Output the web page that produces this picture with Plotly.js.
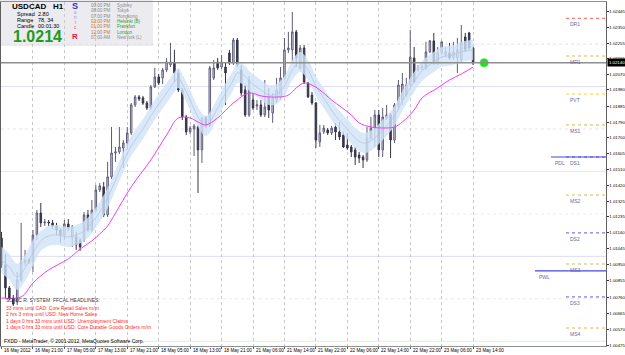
<!DOCTYPE html>
<html><head><meta charset="utf-8">
<script src="https://cdn.plot.ly/plotly-3.0.1.min.js"></script>
<style>html,body{margin:0;padding:0;background:#fff;overflow:hidden}#chart{width:625px;height:355px}</style>
</head><body><div id="chart"></div>
<script>
// ---------------- DATA ----------------
const symbol = "USDCAD";
const timeframe = "H1";
const tickBars = [0,8,16,24,32,40,48,56,64,72,80,88,96,104,112,120];
const tickLabels = ["16 May 2012","16 May 21:00","17 May 05:00","17 May 13:00","17 May 21:00","18 May 05:00","18 May 13:00","18 May 21:00","21 May 06:00","21 May 14:00","21 May 22:00","22 May 06:00","22 May 14:00","22 May 22:00","23 May 06:00","23 May 14:00"];
const priceTickLabels = ["1.02445","1.02350","1.02255","1.02165","1.02070","1.01980","1.01885","1.01790","1.01700","1.01605","1.01510","1.01420","1.01325","1.01235","1.01140","1.01045","1.00950","1.00855","1.00760","1.00665","1.00570","1.00475"];

const openP = [1.01108,1.00949,1.00814,1.00755,1.00731,1.00861,1.00961,1.00979,1.00967,1.01126,1.01255,1.01197,1.01202,1.01197,1.01179,1.01155,1.01126,1.01191,1.01114,1.01114,1.01096,1.01096,1.01244,1.01155,1.01273,1.01391,1.01409,1.01244,1.01468,1.01609,1.01615,1.01638,1.01668,1.01727,1.01892,1.01939,1.01933,1.01903,1.01874,1.01998,1.02057,1.02051,1.02098,1.02127,1.02139,1.02080,1.01980,1.01821,1.01733,1.01750,1.01762,1.01627,1.01815,1.01774,1.02051,1.02145,1.02115,1.02115,1.02198,1.02139,1.02274,1.02098,1.01980,1.01833,1.01921,1.01886,1.01892,1.01833,1.01939,1.01844,1.01921,1.01939,1.02051,1.02216,1.02216,1.02322,1.02110,1.02227,1.02021,1.01950,1.01903,1.01674,1.01733,1.01744,1.01727,1.01762,1.01733,1.01715,1.01656,1.01644,1.01627,1.01597,1.01585,1.01568,1.01697,1.01756,1.01833,1.01627,1.01815,1.01833,1.01685,1.01892,1.01921,1.01950,1.02009,1.02168,1.02098,1.02110,1.02110,1.02204,1.02269,1.02139,1.02198,1.02186,1.02198,1.02168,1.02168,1.02157,1.02292,1.02316,1.02227];
const highP = [1.01144,1.01014,1.00825,1.00772,1.00908,1.01197,1.01038,1.00990,1.01155,1.01273,1.01314,1.01220,1.01214,1.01214,1.01197,1.01167,1.01214,1.01220,1.01185,1.01144,1.01108,1.01261,1.01273,1.01332,1.01420,1.01432,1.01438,1.01556,1.01762,1.01644,1.01762,1.01685,1.01762,1.01903,1.01950,1.01950,1.01945,1.01915,1.02009,1.02110,1.02074,1.02110,1.02168,1.02257,1.02216,1.02098,1.01992,1.01833,1.01768,1.01780,1.01774,1.01821,1.01827,1.02121,1.02157,1.02168,1.02186,1.02145,1.02216,1.02286,1.02286,1.02127,1.02009,1.02062,1.01962,1.01921,1.01921,1.02039,1.01992,1.01962,1.02051,1.02115,1.02286,1.02322,1.02439,1.02333,1.02245,1.02245,1.02027,1.01968,1.01909,1.01774,1.01774,1.01756,1.01768,1.01786,1.01791,1.01733,1.01727,1.01656,1.01644,1.01615,1.01597,1.01762,1.01821,1.01862,1.01862,1.01874,1.01892,1.01844,1.01903,1.02039,1.02080,1.02051,1.02333,1.02233,1.02127,1.02133,1.02263,1.02274,1.02316,1.02233,1.02269,1.02233,1.02257,1.02263,1.02286,1.02363,1.02316,1.02322,1.02233];
const lowP = [1.00932,1.00755,1.00743,1.00708,1.00714,1.00849,1.00943,1.00955,1.00908,1.01096,1.01173,1.01179,1.01179,1.01161,1.01126,1.01079,1.01096,1.01149,1.01055,1.01038,1.01032,1.01085,1.01144,1.01144,1.01261,1.01379,1.01232,1.01232,1.01456,1.01556,1.01603,1.01520,1.01627,1.01715,1.01880,1.01915,1.01892,1.01862,1.01862,1.01992,1.02009,1.02015,1.02086,1.02115,1.02027,1.01968,1.01803,1.01715,1.01721,1.01591,1.01373,1.01550,1.01756,1.01762,1.02039,1.02098,1.02104,1.01892,1.02127,1.02127,1.02115,1.01945,1.01821,1.01821,1.01862,1.01862,1.01821,1.01821,1.01815,1.01786,1.01903,1.01921,1.02039,1.02198,1.02145,1.02115,1.02098,1.02015,1.01933,1.01892,1.01638,1.01644,1.01721,1.01715,1.01715,1.01685,1.01685,1.01638,1.01627,1.01585,1.01538,1.01550,1.01520,1.01556,1.01685,1.01644,1.01585,1.01585,1.01803,1.01579,1.01668,1.01862,1.01892,1.01939,1.01998,1.02021,1.02086,1.02098,1.02098,1.02198,1.02127,1.02127,1.02186,1.02174,1.02157,1.02157,1.02080,1.02145,1.02204,1.02216,1.02127];
const closeP = [1.00949,1.00814,1.00755,1.00719,1.00861,1.00967,1.00979,1.00967,1.01126,1.01255,1.01197,1.01202,1.01197,1.01179,1.01155,1.01126,1.01191,1.01167,1.01173,1.01067,1.01055,1.01244,1.01155,1.01273,1.01391,1.01415,1.01244,1.01468,1.01609,1.01615,1.01644,1.01668,1.01727,1.01892,1.01939,1.01927,1.01903,1.01874,1.01998,1.02057,1.02021,1.02098,1.02145,1.02145,1.02080,1.01980,1.01821,1.01733,1.01756,1.01768,1.01627,1.01815,1.01774,1.02110,1.02110,1.02110,1.02145,1.02080,1.02139,1.02274,1.02127,1.01962,1.01833,1.02039,1.01874,1.01892,1.01833,1.01880,1.01862,1.01933,1.01980,1.02051,1.02216,1.02227,1.02322,1.02168,1.02227,1.02027,1.01939,1.01903,1.01685,1.01727,1.01756,1.01727,1.01756,1.01733,1.01703,1.01644,1.01638,1.01615,1.01585,1.01579,1.01568,1.01697,1.01756,1.01833,1.01627,1.01821,1.01833,1.01685,1.01892,1.02009,1.02015,1.02009,1.02174,1.02027,1.02110,1.02115,1.02204,1.02269,1.02139,1.02198,1.02263,1.02204,1.02168,1.02204,1.02216,1.02257,1.02216,1.02227,1.02140];

// Sonic R "dragon" band (EMA34 of high / close / low) sampled at these bars
const dragonBars = [0,2,4,6,8,10,12,14,17,19,21,23,25,27,29,31,33,36,38,40,42,44,45,46,48,50,52,55,57,59,60,62,63,66,68,70,72,74,76,78,80,83,85,88,90,92,94,97,100,102,105,107,110,112,115,117,120];
const dragonMid = [1.00979,1.00937,1.00879,1.00932,1.01020,1.01091,1.01120,1.01126,1.01114,1.01126,1.01149,1.01197,1.01261,1.01344,1.01450,1.01556,1.01650,1.01750,1.01827,1.01897,1.01962,1.02027,1.02051,1.02015,1.01921,1.01821,1.01768,1.01874,1.01962,1.02039,1.02080,1.02062,1.02033,1.01980,1.01950,1.01956,1.02003,1.02098,1.02145,1.02098,1.02003,1.01897,1.01827,1.01750,1.01697,1.01668,1.01680,1.01744,1.01827,1.01915,1.02027,1.02092,1.02145,1.02174,1.02186,1.02204,1.02216];
const dragonHigh = [1.01056,1.01014,1.00956,1.01009,1.01097,1.01150,1.01179,1.01185,1.01173,1.01185,1.01208,1.01256,1.01320,1.01403,1.01509,1.01615,1.01709,1.01809,1.01886,1.01956,1.02021,1.02086,1.02110,1.02074,1.01980,1.01880,1.01827,1.01933,1.02021,1.02098,1.02139,1.02121,1.02092,1.02039,1.02009,1.02015,1.02062,1.02157,1.02204,1.02157,1.02062,1.01956,1.01886,1.01809,1.01756,1.01727,1.01739,1.01803,1.01886,1.01974,1.02086,1.02151,1.02204,1.02233,1.02245,1.02263,1.02275];
const dragonLow = [1.00902,1.00860,1.00802,1.00855,1.00943,1.01032,1.01061,1.01067,1.01055,1.01067,1.01090,1.01138,1.01202,1.01285,1.01391,1.01497,1.01591,1.01691,1.01768,1.01838,1.01903,1.01968,1.01992,1.01956,1.01862,1.01762,1.01709,1.01815,1.01903,1.01980,1.02021,1.02003,1.01974,1.01921,1.01891,1.01897,1.01944,1.02039,1.02086,1.02039,1.01944,1.01838,1.01768,1.01691,1.01638,1.01609,1.01621,1.01685,1.01768,1.01856,1.01968,1.02033,1.02086,1.02115,1.02127,1.02145,1.02157];

// Magenta trend line (EMA89) sampled at these bars
const trendBars = [0,5,8,12,17,20,23,25,27,29,33,38,42,45,48,50,52,55,59,63,66,68,71,73,75,77,79,81,84,89,91,94,97,100,102,105,107,111,114,117,120];
const trendLine = [1.00755,1.00761,1.00843,1.00920,1.00985,1.01043,1.01091,1.01132,1.01179,1.01255,1.01409,1.01568,1.01715,1.01815,1.01815,1.01791,1.01774,1.01815,1.01903,1.01962,1.01945,1.01939,1.01939,1.01950,1.01992,1.02021,1.02009,1.01980,1.01921,1.01833,1.01786,1.01762,1.01756,1.01762,1.01791,1.01862,1.01933,1.01992,1.02039,1.02074,1.02115];

const currentPrice = 1.02140;
const roundLevels = [1.0225,1.0200,1.0175,1.0150,1.0125,1.0100,1.0075,1.0050];
const pivotNames = ["DR1","MR1","PVT","MS1","DS1","MS2","DS2","MS3","DS3","MS4"];
const pivotValues = [1.02402,1.02180,1.01956,1.01774,1.01585,1.01361,1.01138,1.00955,1.00761,1.00578];
const prevNames = ["PDL","PWL"];
const prevValues = [1.01585,1.00914];

const infoLines = [["Spread","2.80"],["Range","78, 34"],["Candle","00:01:30"]];
const clockTimes = ["09:00 PM","08:00 PM","07:00 PM","02:00 PM","01:00 PM","12:00 PM","07:00 AM"];
const clockCities = ["Sydney","Tokyo","Hongkong","Helsinki (B)","Frankfurt","London","NewYork (L)"];
const headlineTitle = "SONIC R. SYSTEM  FFCAL HEADLINES:";
const headlines = ["33 mins until CAD: Core Retail Sales m/m","2 hrs 3 mins until USD: New Home Sales","1 days 0 hrs 33 mins until USD: Unemployment Claims","1 days 0 hrs 33 mins until USD: Core Durable Goods Orders m/m"];
const footer = "FXDD - MetaTrader, \u00A9 2001-2012, MetaQuotes Software Corp.";

// ---------------- LAYOUT HELPERS ----------------
const W = 625, H = 355, ML = 1, MR = 19, MT = 2, MB = 9;
const PW = W - ML - MR, PH = H - MT - MB;
const px = x => (x - ML) / PW;
const py = y => 1 - (y - MT) / PH;
const barPx = 3.93, bar0Px = 1.5;
const xRange = [(ML - bar0Px) / barPx, (W - MR - bar0Px) / barPx];
const yRange = [1.00472, 1.02498];
const FONT = "Liberation Sans, Arial, sans-serif";
const barIdx = openP.map((_, i) => i);

const traces = [
  {type:"scatter", mode:"lines", x:dragonBars, y:dragonLow, line:{color:"rgba(0,0,0,0)", width:0, shape:"spline"}, hoverinfo:"skip", showlegend:false},
  {type:"scatter", mode:"lines", x:dragonBars, y:dragonHigh, fill:"tonexty", fillcolor:"rgba(207,228,249,0.8)", line:{color:"rgba(0,0,0,0)", width:0, shape:"spline"}, hoverinfo:"skip", showlegend:false},
  {type:"scatter", mode:"lines", x:dragonBars, y:dragonMid, line:{color:"#b4c2d2", width:0.7, shape:"spline"}, hoverinfo:"skip", showlegend:false},
  {type:"scatter", mode:"lines", x:trendBars, y:trendLine, line:{color:"#f23cf2", width:1, shape:"spline"}, hoverinfo:"skip", showlegend:false},
  {type:"candlestick", x:barIdx, open:openP, high:highP, low:lowP, close:closeP,
   increasing:{line:{color:"#5c5c7a", width:1}, fillcolor:"#dcdce4"},
   decreasing:{line:{color:"#34344a", width:1}, fillcolor:"#3a3a50"},
   whiskerwidth:0, hoverinfo:"skip", showlegend:false},
  {type:"scatter", mode:"markers", x:[122.8], y:[currentPrice], marker:{color:"#19e619", size:8, line:{color:"rgba(25,230,25,0.4)", width:1.5}}, hoverinfo:"skip", showlegend:false}
];

const shapes = [];
const annotations = [];
// info panel background
shapes.push({type:"rect", xref:"paper", yref:"paper", x0:px(0), x1:px(153), y0:py(46), y1:py(0), fillcolor:"#ebebf0", line:{width:0}, layer:"below"});
// round number levels
const levelColors = ["#e4e4e4","#dcdcf4","#f0e0e4","#d8f0d8","#f0ecd8","#dcdcf4","#e8e8e8","#d8f0d8"];
roundLevels.forEach((v, i) => shapes.push({type:"line", xref:"paper", yref:"y", x0:0, x1:1, y0:v, y1:v, line:{color:levelColors[i], width:1, dash: i % 2 === 0 ? "dot" : "solid"}, layer:"below"}));
// bid line
shapes.push({type:"line", xref:"paper", yref:"y", x0:0, x1:1, y0:currentPrice, y1:currentPrice, line:{color:"#8e8e8e", width:1.5}});
// pivot lines
pivotNames.forEach((n, i) => {
  const v = pivotValues[i];
  let col = n[0] === "M" ? "#c9c24a" : "#5a5ae6";
  if (n === "DR1") col = "#ff5a5a";
  if (n === "PVT") col = "#e6d82a";
  shapes.push({type:"line", xref:"paper", yref:"y", x0:px(566), x1:1, y0:v, y1:v, line:{color:col, width:1, dash:"dot"}});
  annotations.push({xref:"paper", yref:"y", x:px(568), y:v, yshift:-1, text:n, showarrow:false, xanchor:"left", yanchor:"top", font:{family:FONT, size:5, color:"#6a6aa2"}});
});
const prevStart = [551, 535];
prevNames.forEach((n, i) => {
  const v = prevValues[i];
  shapes.push({type:"line", xref:"paper", yref:"y", x0:px(prevStart[i]), x1:1, y0:v, y1:v, line:{color:"#4646e6", width:1.2}});
  annotations.push({xref:"paper", yref:"y", x:px(prevStart[i] + 2), y:v, yshift:-1, text:n, showarrow:false, xanchor:"left", yanchor:"top", font:{family:FONT, size:5, color:"#6a6aa2"}});
});
// current price box on axis
annotations.push({xref:"paper", yref:"y", x:px(607), y:currentPrice, text:currentPrice.toFixed(5), showarrow:false, xanchor:"left", yanchor:"middle", bgcolor:"#000", borderpad:1, font:{family:FONT, size:4.3, color:"#fff"}});
// time-axis labels (text starts just right of each tick, as in MetaTrader)
tickBars.forEach((b, i) => annotations.push({xref:"x", yref:"paper", x:b, y:py(350.5), xshift:0.5, text:tickLabels[i], showarrow:false, xanchor:"left", yanchor:"middle", font:{family:FONT, size:4.6, color:"#000"}}));

// info panel text
const T = (x, y, text, size, color, extra) => annotations.push(Object.assign({xref:"paper", yref:"paper", x:px(x), y:py(y), text:text, showarrow:false, xanchor:"left", yanchor:"middle", font:{family:FONT, size:size, color:color}}, extra || {}));
T(10, 6.5, "<b>" + symbol + "   " + timeframe + "</b>", 8, "#000");
infoLines.forEach((l, i) => { T(15, 14 + i * 6, l[0], 5.5, "#000"); T(36, 14 + i * 6, l[1], 5.5, "#000"); });
T(11, 37, "<b>" + closeP[closeP.length - 1].toFixed(4) + "</b>", 16, "#1e9a1e");
const sonic = [["<b>S</b>",6,9,"#2233d6"],["o",12.5,4.5,"#8a8acc"],["n",17.5,4.5,"#a883b8"],["i",22.5,4.5,"#cc6fa0"],["c",27.5,4.5,"#dd5a86"],["<b>R</b>",37,8,"#e8163e"]];
sonic.forEach(s => T(75, s[1], s[0], s[2], s[3], {xanchor:"center"}));
const timeCol = ["#8a8a8a","#8a8a8a","#8a8a8a","#c07a3a","#c07a3a","#c07a3a","#8a8a8a"];
const cityCol = ["#8a8a8a","#8a8a8a","#8a8a8a","#2f9a2f","#2f9a2f","#2f9a2f","#8a8a8a"];
clockTimes.forEach((t, i) => { T(89, 5.5 + i * 5.3, t, 4.5, timeCol[i]); T(115, 5.5 + i * 5.3, clockCities[i], 4.5, cityCol[i]); });
// headlines
T(4, 300, headlineTitle, 5, "#3a3a3a");
headlines.forEach((h, i) => T(4, 307.5 + i * 6.5, h, 5, "#ff2a2a"));
T(2, 341, footer, 5, "#000");

const layout = {
  width: W, height: H,
  margin: {l:ML, r:MR, t:MT, b:MB, pad:0},
  paper_bgcolor: "#fff", plot_bgcolor: "#fff",
  showlegend: false, boxgap: 0.45,
  xaxis: {type:"linear", range:xRange, rangeslider:{visible:false}, tickvals:tickBars, showticklabels:false,
          ticks:"outside", ticklen:2, tickcolor:"#555",
          showgrid:true, gridcolor:"#c8c8c8", griddash:"dot", gridwidth:1,
          zeroline:false, showline:true, linecolor:"#909090", mirror:true, automargin:false, fixedrange:true},
  yaxis: {side:"right", range:yRange, tickvals:priceTickLabels.map(Number), ticktext:priceTickLabels,
          ticks:"outside", ticklen:1.5, tickcolor:"#333", tickfont:{family:FONT, size:4.3, color:"#000"},
          showgrid:false, zeroline:false, showline:true, linecolor:"#606060", mirror:true, automargin:false, fixedrange:true},
  shapes: shapes, annotations: annotations
};
Plotly.newPlot("chart", traces, layout, {staticPlot:true, displayModeBar:false});
</script></body></html>
